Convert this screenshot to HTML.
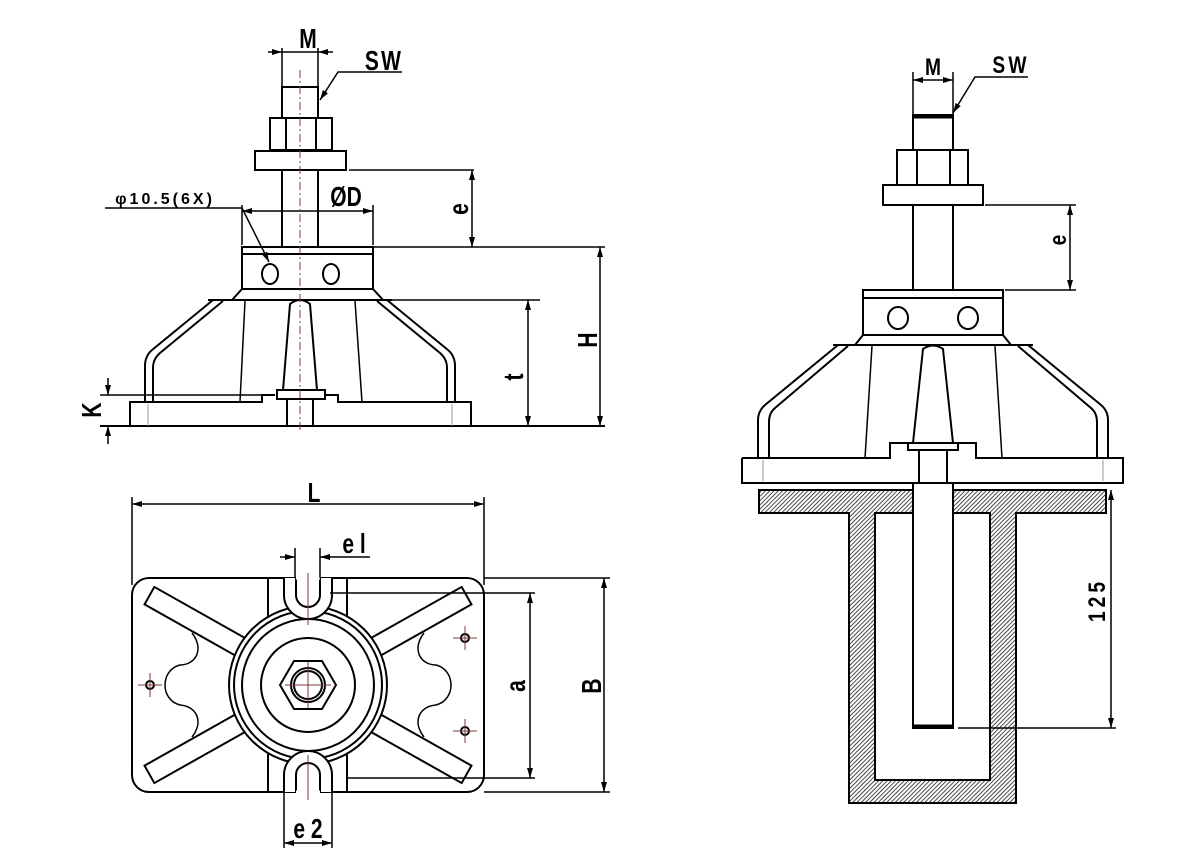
<!DOCTYPE html>
<html><head><meta charset="utf-8"><style>
html,body{margin:0;padding:0;background:#fff}
svg{display:block}
text{font-family:"Liberation Sans",sans-serif;font-weight:bold;fill:#000}
</style></head><body>
<svg width="1197" height="864" viewBox="0 0 1197 864" xmlns="http://www.w3.org/2000/svg">
<defs>
<pattern id="h" width="3" height="3" patternUnits="userSpaceOnUse" patternTransform="rotate(45)">
<rect width="3" height="3" fill="#fff"/><line x1="0" y1="0" x2="0" y2="3" stroke="#000" stroke-width="1.4"/></pattern>
<marker id="a" viewBox="0 0 10 10" refX="10" refY="5" markerWidth="10" markerHeight="10" orient="auto-start-reverse" markerUnits="userSpaceOnUse"><path d="M0,2 L10,5 L0,8 z" fill="#000"/></marker>
</defs>
<g fill="none" stroke="#000" stroke-width="2">
<line x1="282" y1="48" x2="282" y2="87" stroke-width="1.5"/><line x1="318" y1="48" x2="318" y2="87" stroke-width="1.5"/>
<line x1="268" y1="52" x2="282" y2="52" marker-end="url(#a)" stroke-width="1.5"/>
<line x1="333" y1="52" x2="318" y2="52" marker-end="url(#a)" stroke-width="1.5"/>
<line x1="282" y1="52" x2="318" y2="52" stroke-width="1.5"/>
<polyline points="402,72 338,72 320,100" stroke-width="1.5" marker-end="url(#a)"/>
<rect x="282" y="87" width="36" height="31"/>
<rect x="270" y="118" width="62" height="32"/>
<line x1="286" y1="118" x2="286" y2="150"/><line x1="316" y1="118" x2="316" y2="150"/>
<rect x="255" y="151" width="91" height="19"/>
<line x1="282" y1="170" x2="282" y2="247"/><line x1="318" y1="170" x2="318" y2="247"/>
<line x1="349" y1="170" x2="474" y2="170" stroke-width="1.5"/>
<line x1="472" y1="170" x2="472" y2="247" stroke-width="1.5" marker-start="url(#a)" marker-end="url(#a)"/>
<line x1="242" y1="205" x2="242" y2="245" stroke-width="1.5"/><line x1="373" y1="205" x2="373" y2="245" stroke-width="1.5"/>
<line x1="242" y1="211" x2="373" y2="211" stroke-width="1.5" marker-start="url(#a)" marker-end="url(#a)"/>
<polyline points="105,208 242,208 269,262" stroke-width="1.5" marker-end="url(#a)"/>
<rect x="242" y="247" width="131" height="42"/>
<line x1="242" y1="254" x2="373" y2="254"/>
<ellipse cx="270" cy="274" rx="8" ry="10"/><ellipse cx="331" cy="274" rx="8" ry="10"/>
<path d="M242,289 L232,300 M373,289 L383,300"/>
<line x1="208" y1="300" x2="392" y2="300"/>
<path d="M213,300 L152,350 Q145,356 145,366 L145,402"/>
<path d="M223,301 L160,353 Q153,359 153,368 L153,402"/>
<path d="M387,300 L448,350 Q455,356 455,366 L455,402"/>
<path d="M377,301 L440,353 Q447,359 447,368 L447,402"/>
<line x1="245" y1="301" x2="240" y2="402" stroke-width="1.5"/><line x1="355" y1="301" x2="362" y2="402" stroke-width="1.5"/>
<path d="M283,390 L290,304 Q300,296 310,304 L317,390"/>
<path d="M130,426 L130,402 L262,402 L262,395 L275,395 M325,395 L338,395 L338,402 L471,402 L471,426"/>
<rect x="277" y="390" width="48" height="9"/>
<rect x="287" y="399" width="26" height="27"/>
<line x1="100" y1="426" x2="605" y2="426"/>
<line x1="100" y1="395" x2="262" y2="395" stroke-width="1.5"/>
<line x1="108" y1="378" x2="108" y2="395" stroke-width="1.5" marker-end="url(#a)"/>
<line x1="108" y1="444" x2="108" y2="426" stroke-width="1.5" marker-end="url(#a)"/>
<line x1="384" y1="300" x2="540" y2="300" stroke-width="1.5"/>
<line x1="528" y1="300" x2="528" y2="426" stroke-width="1.5" marker-start="url(#a)" marker-end="url(#a)"/>
<line x1="366" y1="247" x2="605" y2="247" stroke-width="1.5"/>
<line x1="600" y1="247" x2="600" y2="426" stroke-width="1.5" marker-start="url(#a)" marker-end="url(#a)"/>
<line x1="300" y1="70" x2="300" y2="432" stroke="#7a3a3a" stroke-width="1" stroke-dasharray="8,3,2,3"/>
<line x1="148" y1="404" x2="148" y2="426" stroke="#999" stroke-width="1"/><line x1="452" y1="404" x2="452" y2="426" stroke="#999" stroke-width="1"/>

<line x1="132" y1="497" x2="132" y2="585" stroke-width="1.5"/><line x1="484" y1="497" x2="484" y2="585" stroke-width="1.5"/>
<line x1="132" y1="504" x2="484" y2="504" stroke-width="1.5" marker-start="url(#a)" marker-end="url(#a)"/>
<rect x="132" y="578" width="352" height="214" rx="17"/>
<line x1="268" y1="578" x2="268" y2="792"/><line x1="347" y1="578" x2="347" y2="792"/>
<g transform="translate(308,685)" fill="#fff">
<rect x="70" y="-10" width="112" height="20" transform="rotate(-150.6)"/>
<rect x="70" y="-10" width="112" height="20" transform="rotate(150.6)"/>
<rect x="70" y="-10" width="112" height="20" transform="rotate(-29.4)"/>
<rect x="70" y="-10" width="112" height="20" transform="rotate(29.4)"/>
</g>
<path d="M192,633 C205,650 195,665 180,665 C160,670 160,700 180,705 C195,706 205,720 192,737" stroke-width="1.5"/>
<path d="M424,633 C411,650 421,665 436,665 C456,670 456,700 436,705 C421,706 411,720 424,737" stroke-width="1.5"/>
<circle cx="308" cy="685" r="79" fill="#fff"/>
<circle cx="308" cy="685" r="74"/>
<circle cx="308" cy="685" r="66"/>
<circle cx="308" cy="685" r="47"/>
<polygon points="336,685 322,709 294,709 280,685 294,661 322,661" fill="#fff"/>
<circle cx="308" cy="685" r="17"/><circle cx="308" cy="685" r="14"/>
<path d="M284,578 L284,595 A24,24 0 0 0 332,595 L332,578" fill="#fff"/>
<path d="M296,578 L296,595 A12,12 0 0 0 320,595 L320,578"/>
<path d="M284,792 L284,775 A24,24 0 0 1 332,775 L332,792" fill="#fff"/>
<path d="M296,792 L296,775 A12,12 0 0 1 320,775 L320,792"/>
<line x1="296" y1="578" x2="320" y2="578" stroke="#fff" stroke-width="3"/>
<line x1="296" y1="792" x2="320" y2="792" stroke="#fff" stroke-width="3"/>
<circle cx="150" cy="685" r="4"/><circle cx="465" cy="638" r="4"/><circle cx="465" cy="731" r="4"/>
<g stroke="#7a3a3a" stroke-width="1">
<line x1="138" y1="685" x2="162" y2="685"/><line x1="150" y1="673" x2="150" y2="697"/>
<line x1="453" y1="638" x2="477" y2="638"/><line x1="465" y1="626" x2="465" y2="650"/>
<line x1="453" y1="731" x2="477" y2="731"/><line x1="465" y1="719" x2="465" y2="743"/>
<line x1="308" y1="573" x2="308" y2="625"/><line x1="308" y1="755" x2="308" y2="800"/>
<line x1="285" y1="685" x2="331" y2="685"/><line x1="308" y1="662" x2="308" y2="708"/>
</g>
<line x1="295" y1="548" x2="295" y2="578" stroke-width="1.5"/><line x1="320" y1="548" x2="320" y2="578" stroke-width="1.5"/>
<line x1="280" y1="557" x2="295" y2="557" stroke-width="1.5" marker-end="url(#a)"/>
<line x1="370" y1="557" x2="320" y2="557" stroke-width="1.5" marker-end="url(#a)"/>
<line x1="330" y1="593" x2="535" y2="593" stroke-width="1.5"/><line x1="347" y1="778" x2="535" y2="778" stroke-width="1.5"/>
<line x1="530" y1="593" x2="530" y2="778" stroke-width="1.5" marker-start="url(#a)" marker-end="url(#a)"/>
<line x1="484" y1="578" x2="610" y2="578" stroke-width="1.5"/><line x1="484" y1="792" x2="610" y2="792" stroke-width="1.5"/>
<line x1="604" y1="578" x2="604" y2="792" stroke-width="1.5" marker-start="url(#a)" marker-end="url(#a)"/>
<line x1="284" y1="792" x2="284" y2="848" stroke-width="1.5"/><line x1="332" y1="792" x2="332" y2="848" stroke-width="1.5"/>
<line x1="284" y1="843" x2="332" y2="843" stroke-width="1.5" marker-start="url(#a)" marker-end="url(#a)"/>

<line x1="913" y1="72" x2="913" y2="115" stroke-width="1.5"/><line x1="953" y1="72" x2="953" y2="115" stroke-width="1.5"/>
<line x1="913" y1="80" x2="953" y2="80" stroke-width="1.5" marker-start="url(#a)" marker-end="url(#a)"/>
<polyline points="1028,77 975,77 953,113" stroke-width="1.5" marker-end="url(#a)"/>
<rect x="913" y="115" width="40" height="35"/>
<line x1="913" y1="117" x2="953" y2="117" stroke-width="3"/>
<rect x="897" y="150" width="71" height="35"/>
<line x1="917" y1="150" x2="917" y2="185"/><line x1="950" y1="150" x2="950" y2="185"/>
<rect x="883" y="185" width="100" height="20"/>
<line x1="913" y1="205" x2="913" y2="290"/><line x1="953" y1="205" x2="953" y2="290"/>
<line x1="985" y1="205" x2="1076" y2="205" stroke-width="1.5"/><line x1="1005" y1="290" x2="1076" y2="290" stroke-width="1.5"/>
<line x1="1070" y1="205" x2="1070" y2="290" stroke-width="1.5" marker-start="url(#a)" marker-end="url(#a)"/>
<rect x="863" y="290" width="140" height="45"/>
<line x1="863" y1="298" x2="1003" y2="298"/>
<ellipse cx="898" cy="318" rx="10" ry="11"/><ellipse cx="968" cy="318" rx="10" ry="11"/>
<path d="M863,335 L855,345 M1003,335 L1011,345"/>
<line x1="833" y1="345" x2="1033" y2="345"/>
<path d="M838,345 L765,405 Q758,411 758,420 L758,458"/>
<path d="M848,346 L775,408 Q769,413 769,422 L769,458"/>
<path d="M1028,345 L1101,405 Q1108,411 1108,420 L1108,458"/>
<path d="M1018,346 L1091,408 Q1097,413 1097,422 L1097,458"/>
<line x1="872" y1="346" x2="865" y2="458" stroke-width="1.5"/><line x1="995" y1="346" x2="1002" y2="458" stroke-width="1.5"/>
<path d="M913,443 L923,349 Q933,342 943,349 L953,443"/>
<path d="M742,458 L890,458 L890,443 L908,443 M958,443 L976,443 L976,458 L1123,458 L1123,483 L742,483 L742,458"/>
<rect x="908" y="443" width="50" height="7"/>
<rect x="919" y="450" width="28" height="33" fill="#fff"/>
<line x1="763" y1="460" x2="763" y2="481" stroke="#999" stroke-width="1"/><line x1="1103" y1="460" x2="1103" y2="481" stroke="#999" stroke-width="1"/>
<path d="M759,490 L1106,490 L1106,513 L1016,513 L1016,803 L849,803 L849,513 L759,513 Z M875,513 L875,780 L990,780 L990,513 Z" fill="url(#h)" fill-rule="evenodd"/>
<rect x="913" y="483" width="40" height="245" fill="#fff"/>
<line x1="913" y1="726" x2="953" y2="726" stroke-width="3"/>
<line x1="958" y1="728" x2="1116" y2="728" stroke-width="1.5"/>
<line x1="1111" y1="490" x2="1111" y2="728" stroke-width="1.5" marker-start="url(#a)" marker-end="url(#a)"/>
</g>
<g font-size="28">
<text transform="translate(308,48) scale(0.75,1)" text-anchor="middle">M</text>
<text transform="translate(384,70) scale(0.75,1)" text-anchor="middle" letter-spacing="3">SW</text>
<text transform="translate(346,206) scale(0.75,1)" text-anchor="middle">ØD</text>
<text x="165" y="204" font-size="16" font-weight="normal" text-anchor="middle" letter-spacing="3">φ10.5(6X)</text>
<text transform="translate(468,209) rotate(-90) scale(0.75,1)" text-anchor="middle">e</text>
<text transform="translate(523,377) rotate(-90) scale(0.75,1)" text-anchor="middle">t</text>
<text transform="translate(597,340) rotate(-90) scale(0.75,1)" text-anchor="middle">H</text>
<text transform="translate(101,410) rotate(-90) scale(0.75,1)" text-anchor="middle">K</text>
<text transform="translate(314,502) scale(0.75,1)" text-anchor="middle">L</text>
<text transform="translate(354,553) scale(0.75,1)" text-anchor="middle">e l</text>
<text transform="translate(525,686) rotate(-90) scale(0.75,1)" text-anchor="middle">a</text>
<text transform="translate(601,686) rotate(-90) scale(0.75,1)" text-anchor="middle">B</text>
<text transform="translate(308,838) scale(0.75,1)" text-anchor="middle">e 2</text>
</g>
<g font-size="24" font-weight="normal">
<text transform="translate(933,75) scale(0.8,1)" text-anchor="middle">M</text>
<text transform="translate(1011,73) scale(0.8,1)" text-anchor="middle" letter-spacing="4">SW</text>
<text transform="translate(1066,240) rotate(-90) scale(0.8,1)" text-anchor="middle">e</text>
<text transform="translate(1105,600) rotate(-90) scale(0.8,1)" text-anchor="middle" letter-spacing="5">125</text>
</g>
</svg>
</body></html>
